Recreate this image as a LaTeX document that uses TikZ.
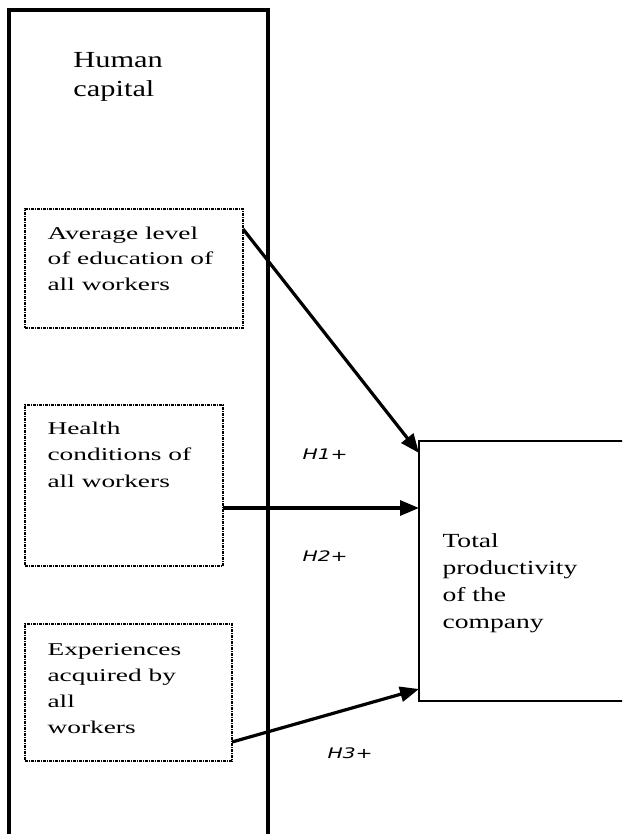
\documentclass[tikz,border=0pt]{standalone}
\usepackage{fontspec}
\setmainfont{Liberation Serif}
\newfontfamily\hypfont{DejaVu Sans}
\usetikzlibrary{arrows.meta,calc}

\tikzset{every picture/.style={line width=0.75pt}}
\tikzset{
  factorbox/.style={draw, line width=2.5pt, dash pattern={on 3pt off 1pt on 1pt off 1pt},
    anchor=north west, inner sep=0pt, outer sep=0pt},
  plaintext/.style={anchor=base west, inner sep=0pt, align=left},
  boxtext/.style={plaintext, xscale=1.52, font=\fontsize{18}{26}\selectfont},
  hyplabel/.style={anchor=base west, inner sep=0pt, xscale=1.4,
    font=\hypfont\itshape\fontsize{14.5}{16}\selectfont},
  effect/.style={line width=3.2pt, -{Triangle[length=19pt,width=15pt]}}
}

\begin{document}
\begin{tikzpicture}[x=1pt,y=1pt,yscale=-1,xscale=1]
        \useasboundingbox (0,0) rectangle (622,834);
        \clip (0,0) rectangle (622,834);

        %Shape: Rectangle [human capital block]
        \node [draw, line width=3.8pt, anchor=north west, inner sep=0pt, outer sep=0pt,
               minimum width=259, minimum height=850] (capital) at (9,10) {};
        % Text Node (base = last line)
        \node [plaintext, xscale=1.32, font=\fontsize{23}{29}\selectfont] (capitaltxt) at (73,97) {Human\\capital};

        %Shape: Rectangle [education]
        \node [factorbox, minimum width=218, minimum height=119] (edu) at (25,209) {};
        \node [boxtext, font=\fontsize{18}{25.5}\selectfont] (edutxt) at (47,290) {Average level\\of education of\\all workers};

        %Shape: Rectangle [health]
        \node [factorbox, minimum width=198, minimum height=161] (health) at (25,405) {};
        \node [boxtext, font=\fontsize{18}{26.5}\selectfont] (healthtxt) at (47,487) {Health\\conditions of\\all workers};

        %Shape: Rectangle [experience]
        \node [factorbox, minimum width=207, minimum height=137] (exper) at (25,624) {};
        \node [boxtext] (expertxt) at (47,733) {Experiences\\acquired by\\all\\workers};

        %Shape: Rectangle [productivity]
        \node [draw, line width=2.8pt, anchor=north west, inner sep=0pt, outer sep=0pt,
               minimum width=210, minimum height=260] (total) at (419,441) {};
        \node [plaintext, xscale=1.38, font=\fontsize{20}{27}\selectfont] (totaltxt) at (442,628) {Total\\productivity\\of the\\company};

        %Straight Lines [hypotheses]
        \draw [effect] ($(edu.north east)+(0,20)$) -- ($(total.north west)+(0,12)$);
        \draw [effect] ($(health.north east)+(0,103)$) -- ($(total.north west)+(0,67)$);
        \draw [effect] ($(exper.north east)+(0,118)$) -- ($(total.north west)+(0,248)$);

        % Text Node
        \node [hyplabel] (h1) at (302,459) {H1+};
        \node [hyplabel] (h2) at (302,561) {H2+};
        \node [hyplabel] (h3) at (327,758) {H3+};
\end{tikzpicture}
\end{document}
